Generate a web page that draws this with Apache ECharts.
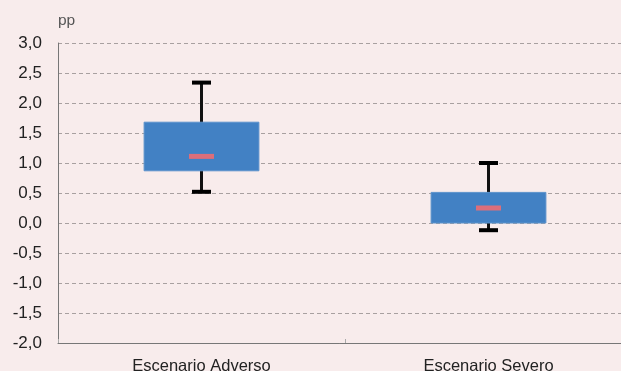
<!DOCTYPE html>
<html>
<head>
<meta charset="utf-8">
<script src="https://cdn.jsdelivr.net/npm/echarts@6/dist/echarts.min.js"></script>
<style>
  html, body { margin: 0; padding: 0; background: #f8ecec; }
  #chart { width: 621px; height: 371px; }
</style>
</head>
<body>
<div id="chart"></div>
<script>
var categories = ['Escenario Adverso', 'Escenario Severo'];
// min, q1, median, q3, max
var lowValues = [0.52, -0.12];
var q1Values = [0.87, 0.0];
var medianValues = [1.11, 0.25];
var q3Values = [1.68, 0.51];
var highValues = [2.34, 1.0];

var boxData = categories.map(function (c, i) {
  return [i, lowValues[i], q1Values[i], medianValues[i], q3Values[i], highValues[i]];
});

function fmt (v) {
  return v.toFixed(1).replace('.', ',');
}

var font = 'Liberation Sans, Arial, sans-serif';
var myChart = echarts.init(document.getElementById('chart'));
var option = {
  backgroundColor: '#f8ecec',
  animation: false,
  grid: { left: 58, right: -11, top: 43, bottom: 28, outerBoundsMode: 'none' },
  xAxis: {
    type: 'category',
    data: categories,
    axisLine: { onZero: false, lineStyle: { color: '#777', width: 1 } },
    axisTick: { show: true, length: 4, inside: true, lineStyle: { color: '#aaa' } },
    axisLabel: { color: '#222', fontSize: 16.5, fontFamily: font, margin: 15 }
  },
  yAxis: {
    type: 'value',
    min: -2,
    max: 3,
    interval: 0.5,
    name: 'pp',
    nameLocation: 'end',
    nameGap: 14,
    nameTextStyle: { color: '#555', fontSize: 15.5, align: 'left', fontFamily: font },
    axisLine: { show: true, lineStyle: { color: '#777', width: 1 } },
    axisTick: { show: false },
    axisLabel: {
      color: '#222', fontSize: 17, margin: 16,
      fontFamily: font,
      formatter: fmt
    },
    splitLine: { show: true, lineStyle: { color: '#a8a0a0', type: [4, 3], width: 1 } }
  },
  series: [{
    type: 'custom',
    data: boxData,
    encode: { x: 0, y: [1, 2, 3, 4, 5] },
    renderItem: function (params, api) {
      var idx = api.value(0);
      var pLow = api.coord([idx, api.value(1)]);
      var pQ1 = api.coord([idx, api.value(2)]);
      var pMed = api.coord([idx, api.value(3)]);
      var pQ3 = api.coord([idx, api.value(4)]);
      var pHigh = api.coord([idx, api.value(5)]);
      var bandW = api.size([1, 0])[0];
      var boxW = bandW * 0.4;
      var cx = pQ1[0];
      var capW = 19;
      var medW = 25;
      return {
        type: 'group',
        children: [
          { type: 'line', shape: { x1: cx, y1: pHigh[1], x2: cx, y2: pLow[1] },
            style: { stroke: '#111', lineWidth: 3 } },
          { type: 'rect', shape: { x: cx - capW / 2, y: pHigh[1] - 2, width: capW, height: 4 },
            style: { fill: '#000' } },
          { type: 'rect', shape: { x: cx - capW / 2, y: pLow[1] - 2, width: capW, height: 4 },
            style: { fill: '#000' } },
          { type: 'rect', shape: { x: cx - boxW / 2, y: pQ3[1], width: boxW, height: pQ1[1] - pQ3[1] },
            style: { fill: '#4281c4', stroke: '#5b92cc', lineWidth: 1 } },
          { type: 'rect', shape: { x: cx - medW / 2, y: pMed[1] - 2.5, width: medW, height: 5 },
            style: { fill: '#dc6e7a' } }
        ]
      };
    }
  }]
};
myChart.setOption(option);
</script>
</body>
</html>
